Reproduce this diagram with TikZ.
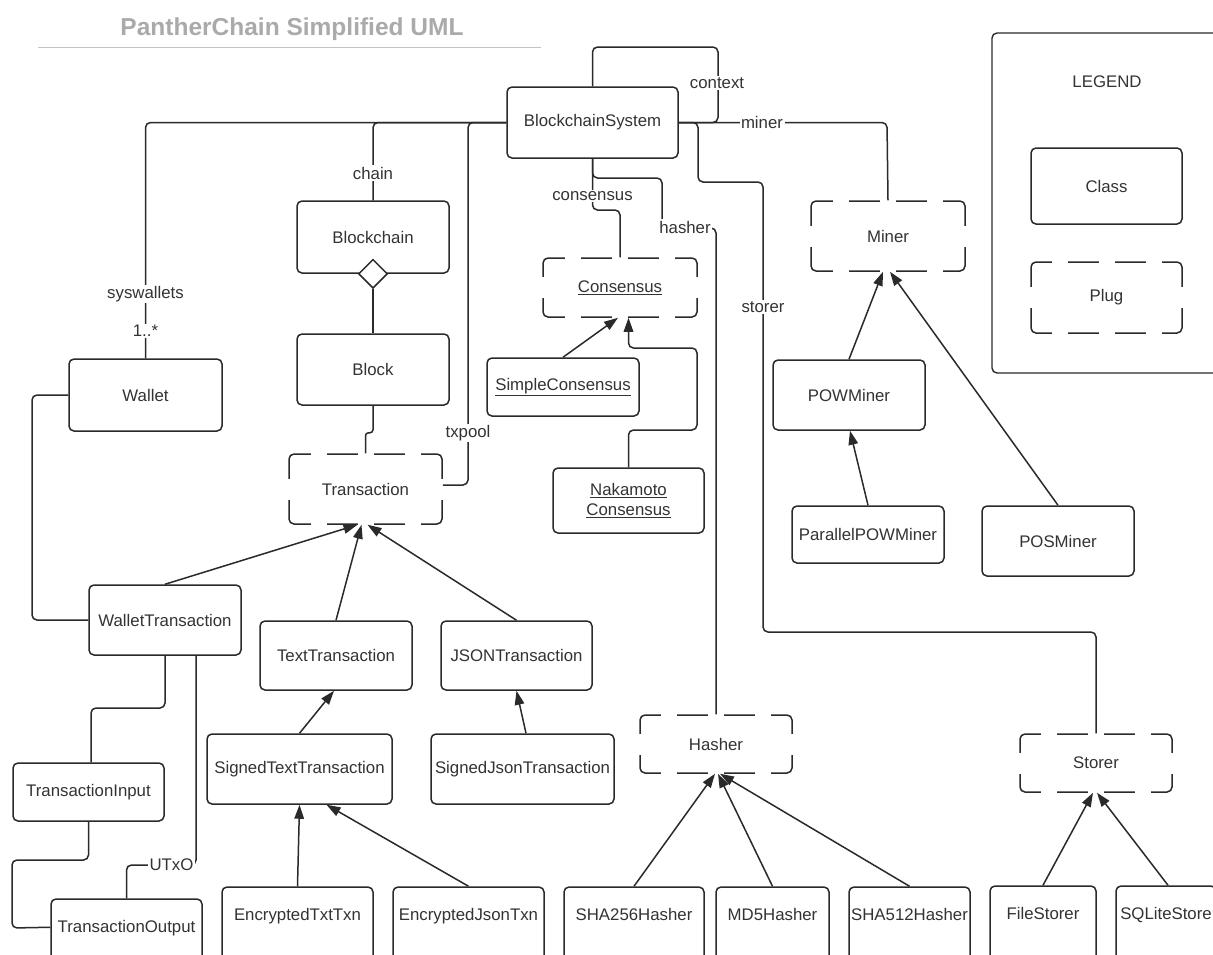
\documentclass[tikz,border=0pt]{standalone}
\usepackage{fontspec}
\setmainfont{Liberation Sans}
\usetikzlibrary{arrows.meta,calc,shapes.geometric}
\definecolor{ink}{HTML}{333333}
\definecolor{edge}{HTML}{2A2A2A}
\definecolor{titlegray}{HTML}{AAAAAA}
\definecolor{rulegray}{HTML}{C4C4C4}
% gaps of a "plug" box border, Lucidchart style: solid corners, centred gaps
\newcommand\plugify[1]{%
  \foreach \dx in {-47,0,47} {
    \draw[white, line width=3.5pt] ($(#1.north)+(\dx-8,0)$) -- ($(#1.north)+(\dx+8,0)$);
    \draw[white, line width=3.5pt] ($(#1.south)+(\dx-8,0)$) -- ($(#1.south)+(\dx+8,0)$);
  }
  \draw[white, line width=3.5pt] ($(#1.west)+(0,-10.5)$) -- ($(#1.west)+(0,10.5)$);
  \draw[white, line width=3.5pt] ($(#1.east)+(0,-10.5)$) -- ($(#1.east)+(0,10.5)$);
}
\begin{document}
\begin{tikzpicture}[x=1pt,y=-1pt,
  font=\fontsize{16.8}{20}\selectfont,
  every node/.style={text=ink},
  cls/.style={draw=edge, line width=1.5pt, rounded corners=5pt, inner sep=1pt, align=center},
  plug/.style={cls},
  lbl/.style={fill=white, inner sep=1.5pt},
  conn/.style={draw=edge, line width=1.5pt, rounded corners=5pt},
  inh/.style={conn, -{Triangle[length=14pt,width=9.5pt]}},
  bottomcls/.style={cls, minimum height=80pt, text height=12.3pt, text depth=25pt}
]
\useasboundingbox (0,0) rectangle (1213,954);
\clip (0,0) rectangle (1213,954);
\fill[white] (0,0) rectangle (1213,954);

% title
\node[font=\fontsize{24.5}{28}\selectfont\bfseries, text=titlegray, anchor=base] (title) at (292,35.3) {PantherChain Simplified UML};
\draw[rulegray, line width=1.2pt] (38,47.5) -- (541,47.5);

% legend
\node[draw=edge, line width=1.4pt, rounded corners=5pt, minimum width=242pt, minimum height=340pt] (legend) at (1113,203) {};
\node (legendtitle) at (1107,82) {LEGEND};
\node[cls, minimum width=151pt, minimum height=76pt] (classkey) at (1106.5,186) {Class};
\node[plug, minimum width=151pt, minimum height=71pt] (plugkey) at (1106.5,297.5) {Plug};

% classes
\node[cls, minimum width=171pt, minimum height=71pt] (bs) at (592.5,122.5) {BlockchainSystem};
\node[cls, minimum width=152pt, minimum height=72pt] (chainbox) at (373,237) {Blockchain};
\node[cls, minimum width=152pt, minimum height=71pt] (block) at (373,369.5) {Block};
\node[draw=edge, line width=1.5pt, diamond, fill=white, minimum width=29pt, minimum height=29pt, inner sep=0pt] (dia) at (chainbox.south) {};
\node[cls, minimum width=153pt, minimum height=72pt] (wallet) at (145.5,395) {Wallet};
\node[plug, minimum width=153pt, minimum height=70pt] (txn) at (365.5,489) {Transaction};
\node[plug, minimum width=154pt, minimum height=59pt] (cons) at (620,287.5) {\underline{Consensus}};
\node[cls, minimum width=152pt, minimum height=58pt] (simple) at (563,387) {\underline{SimpleConsensus}};
\node[cls, minimum width=151pt, minimum height=65pt] (naka) at (628.5,500.5) {\underline{Nakamoto}\\\underline{Consensus}};
\node[plug, minimum width=154pt, minimum height=70pt] (miner) at (888,236) {Miner};
\node[cls, minimum width=152pt, minimum height=70pt] (pow) at (849,395) {POWMiner};
\node[cls, minimum width=152pt, minimum height=57pt] (ppow) at (868,534.5) {ParallelPOWMiner};
\node[cls, minimum width=152pt, minimum height=70pt] (pos) at (1058,541) {POSMiner};
\node[cls, minimum width=152pt, minimum height=70pt] (wtx) at (165,620) {WalletTransaction};
\node[cls, minimum width=152pt, minimum height=69pt] (ttx) at (336,655.5) {TextTransaction};
\node[cls, minimum width=151pt, minimum height=69pt] (jtx) at (516.5,655.5) {JSONTransaction};
\node[cls, minimum width=185pt, minimum height=70pt] (sttx) at (299.5,769) {SignedTextTransaction};
\node[cls, minimum width=183pt, minimum height=70pt] (sjtx) at (522.5,769) {SignedJsonTransaction};
\node[cls, minimum width=151pt, minimum height=58pt] (tin) at (88.5,792) {TransactionInput};
\node[bottomcls, minimum width=151pt] (tout) at (126.5,939) {TransactionOutput};
\node[bottomcls, minimum width=151pt] (etx) at (297.5,927) {EncryptedTxtTxn};
\node[bottomcls, minimum width=151pt] (ejx) at (468.5,927) {EncryptedJsonTxn};
\node[bottomcls, minimum width=140pt] (sha256) at (634,927) {SHA256Hasher};
\node[bottomcls, minimum width=113pt] (md5) at (772.5,927) {MD5Hasher};
\node[bottomcls, minimum width=121pt, inner xsep=0pt] (sha512) at (909.5,927) {SHA512Hasher};
\node[plug, minimum width=152pt, minimum height=58pt] (hasher) at (716,744) {Hasher};
\node[plug, minimum width=152pt, minimum height=58pt] (storer) at (1096,763) {Storer};
\node[bottomcls, minimum width=106pt] (file) at (1043,926) {FileStorer};
\node[bottomcls, minimum width=100pt] (sqlite) at (1166,926) {SQLiteStore};

% dashed look of the plug boxes
\plugify{plugkey}
\plugify{txn}
\plugify{cons}
\plugify{miner}
\plugify{hasher}
\plugify{storer}

% associations from BlockchainSystem
\draw[conn] (bs.north) -- (592.5,47) -- (718,47) -- (718,122.5) -- (bs.east);
\draw[conn] (bs.east) -- (887,122.5) -- (miner.north);
\draw[conn] (bs.east) -- (698,122.5) -- (698,182) -- (763,182) -- (763,632) -- (1096,632) -- (storer.north);
\draw[conn] (bs.south) -- (592.5,210) -- (620,210) -- (cons.north);
\draw[conn] (bs.south) -- (592.5,178) -- (662,178) -- (662,228) -- (716,228) -- (hasher.north);
\draw[conn] (bs.west) -- (145.5,122.5) -- (wallet.north);
\draw[conn] (bs.west) -- (373,122.5) -- (chainbox.north);
\draw[conn] (bs.west) -- (468,122.5) -- (468,485) -- ($(txn.east)+(0,-4)$);

% other associations
\draw[conn] (dia.south) -- (block.north);
\draw[conn, rounded corners=3pt] (block.south) -- ++(0,27) -| (txn.north);
\draw[conn] (wallet.west) -- (32,395) -- (32,620) -- (wtx.west);
\draw[conn] (wtx.south) -- (165,708) -- (91,708) -- ($(tin.north)+(2.5,0)$);
\draw[conn] (tin.south) -- (88.5,860) -- (12,860) -- (12,928) -- ($(tout.north west)+(0,29)$);
\draw[conn] ($(wtx.south)+(31,0)$) -- (196,865) -- (126.5,865) -- (tout.north);

% inheritance
\draw[inh] (wtx.north) -- ($(txn.south)+(-8,0)$);
\draw[inh] (ttx.north) -- ($(txn.south)+(-4,0)$);
\draw[inh] (jtx.north) -- ($(txn.south)+(2,0)$);
\draw[inh] (sttx.north) -- ($(ttx.south)+(-2,0)$);
\draw[inh] ($(sjtx.north)+(3.5,0)$) -- (jtx.south);
\draw[inh] (etx.north) -- (sttx.south);
\draw[inh] (ejx.north) -- ($(sttx.south)+(27,0)$);
\draw[inh] (simple.north) -- ($(cons.south)+(-2,0)$);
\draw[inh] (naka.north) -- (628.5,430) -- (697,430) -- (697,348) -- (628.5,348) -- ($(cons.south)+(8.5,0)$);
\draw[inh] (pow.north) -- ($(miner.south)+(-5,0)$);
\draw[inh] (pos.north) -- ($(miner.south)+(2,0)$);
\draw[inh] (ppow.north) -- ($(pow.south)+(1,0)$);
\draw[inh] (sha256.north) -- ($(hasher.south)+(-1,0)$);
\draw[inh] (md5.north) -- ($(hasher.south)+(2,0)$);
\draw[inh] (sha512.north) -- ($(hasher.south)+(4,0)$);
\draw[inh] (file.north) -- ($(storer.south)+(-3,0)$);
\draw[inh] ($(sqlite.north)+(2,0)$) -- ($(storer.south)+(1,0)$);

% labels
\node[lbl] (lcontext) at (717,83) {context};
\node[lbl] (lminer) at (762,122.5) {miner};
\node[lbl] (lstorer) at (763,307) {storer};
\node[lbl] (lcons) at (592.5,196) {consensus};
\node[lbl] (lhasher) at (685,227) {hasher};
\node[lbl] (lsys) at (145.5,294) {syswallets};
\node[lbl] (lmult) at (145.5,331) {1..*};
\node[lbl] (lchain) at (373,173) {chain};
\node[lbl] (ltxpool) at (468,433) {txpool};
\node[lbl] (lutxo) at (171.5,865) {UTxO};
\end{tikzpicture}
\end{document}
